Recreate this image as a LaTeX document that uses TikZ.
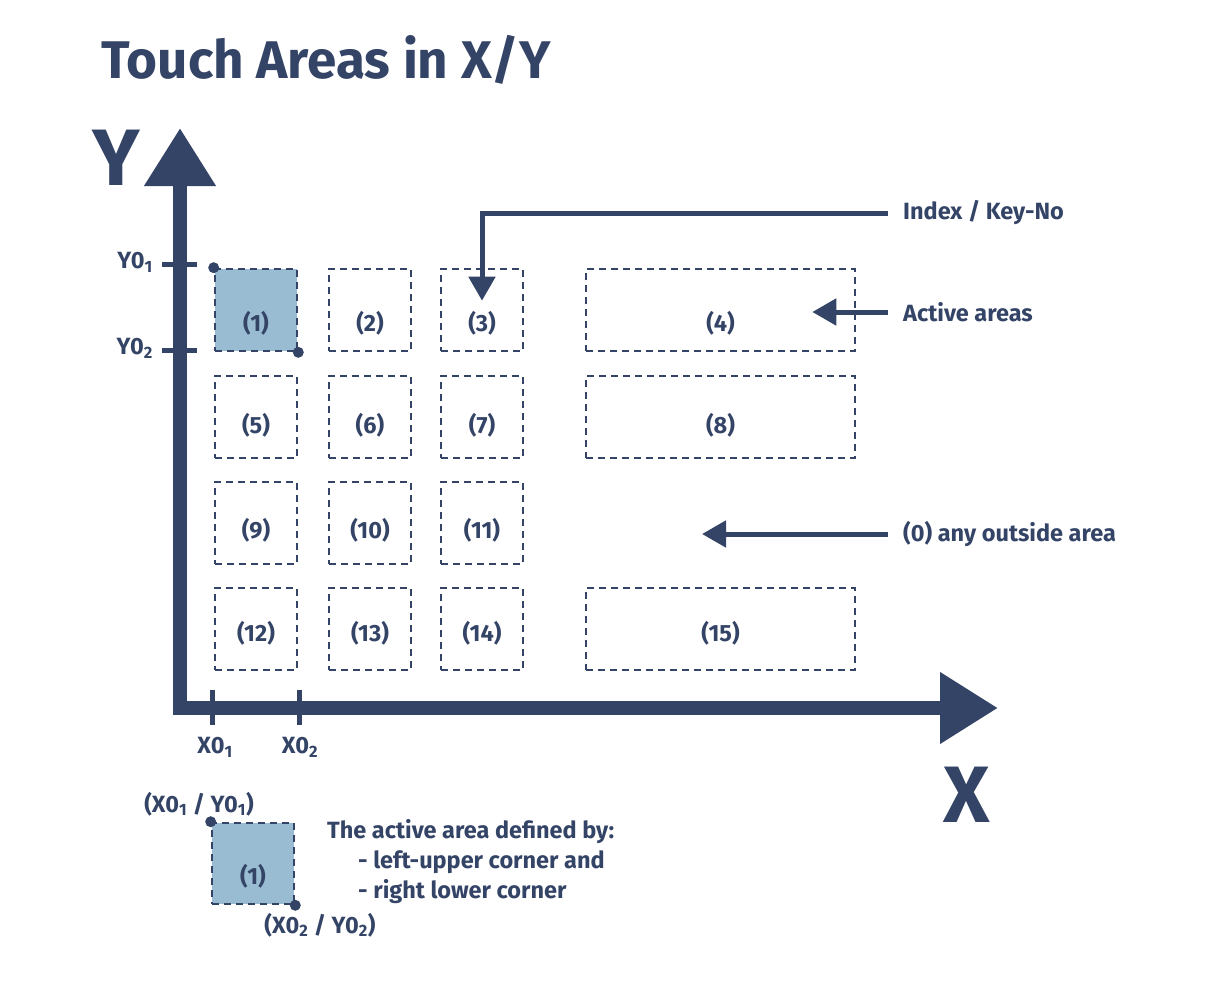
\documentclass[tikz,border=0pt]{standalone}
\usepackage{fontspec}
\setmainfont{Fira Sans}
\usetikzlibrary{arrows.meta, positioning}
\definecolor{navy}{RGB}{52,68,102}
\definecolor{areablue}{RGB}{153,188,211}
\tikzset{
    area/.style={rectangle, draw=navy, line width=2.6pt, dash pattern=on 7pt off 5pt, minimum width=82pt, minimum height=82pt, inner sep=0pt, text height=42pt, text depth=0pt, text=navy, font=\fontsize{23.5}{28}\selectfont\bfseries},
    widearea/.style={area, minimum width=269pt},
    activearea/.style={area, fill=areablue},
    rowb/.style={text height=33pt},
    rowc/.style={text height=30pt},
    rowd/.style={text height=24pt},
    axis/.style={navy, line width=14pt, line join=miter, {Triangle[length=58pt, width=68pt]}-{Triangle[length=58pt, width=68pt]}},
    tickmark/.style={navy, line width=5pt},
    ticklabel/.style={inner sep=0pt, text=navy, font=\fontsize{23.5}{28}\selectfont\bfseries},
    note/.style={anchor=west, inner xsep=15pt, inner ysep=0pt, text=navy, font=\fontsize{23.5}{28}\selectfont\bfseries},
    pointer/.style={navy, line width=5pt, -{Triangle[length=24pt, width=26pt]}},
    corner/.style={circle, fill=navy, inner sep=0pt, minimum size=11pt}
}

\begin{document}
\begin{tikzpicture}[x=1pt, y=-1pt]
    \useasboundingbox (0,0) rectangle (1208,988);

    \node (title) [anchor=base west, inner sep=0pt, text=navy, font=\fontsize{53}{60}\selectfont\bfseries] at (101,78) {Touch Areas in X/Y};

    % axes
    \coordinate (origin) at (180,708);
    \coordinate (ytop) at (180,128);
    \coordinate (xend) at (998,708);
    \draw [axis] (ytop) -- (origin) -- (xend);
    \node (ylab) [inner sep=0pt, text=navy, font=\fontsize{80}{80}\selectfont\bfseries] at (116,158) {Y};
    \node (xlab) [inner sep=0pt, text=navy, font=\fontsize{80}{80}\selectfont\bfseries] at (967,795) {X};

    % ticks
    \coordinate (y1) at (180,264);
    \coordinate (y2) at (180,350);
    \coordinate (x1) at (212,708);
    \coordinate (x2) at (299,708);
    \draw [tickmark] ([xshift=-18pt]y1) -- ([xshift=17pt]y1);
    \draw [tickmark] ([xshift=-18pt]y2) -- ([xshift=17pt]y2);
    \draw [tickmark] ([yshift=18pt]x1) -- ([yshift=-17pt]x1);
    \draw [tickmark] ([yshift=18pt]x2) -- ([yshift=-17pt]x2);
    \node (ly1) [ticklabel, anchor=east] at (153,262) {Y0\textsubscript{1}};
    \node (ly2) [ticklabel, anchor=east] at (153,348) {Y0\textsubscript{2}};
    \node (lx1) [ticklabel] at (215,747) {X0\textsubscript{1}};
    \node (lx2) [ticklabel] at (300,747) {X0\textsubscript{2}};

    % touch areas
    \node (b1) [activearea] at (256,310) {(1)};
    \node (b2) [area] at (370,310) {(2)};
    \node (b3) [area] at (482,310) {(3)};
    \node (b4) [widearea] at (720.5,310) {(4)};
    \node (b5) [area, rowb] at (256,417) {(5)};
    \node (b6) [area, rowb] at (370,417) {(6)};
    \node (b7) [area, rowb] at (482,417) {(7)};
    \node (b8) [widearea, rowb] at (720.5,417) {(8)};
    \node (b9) [area, rowc] at (256,523) {(9)};
    \node (b10) [area, rowc] at (370,523) {(10)};
    \node (b11) [area, rowc] at (482,523) {(11)};
    \node (b12) [area, rowd] at (256,629) {(12)};
    \node (b13) [area, rowd] at (370,629) {(13)};
    \node (b14) [area, rowd] at (482,629) {(14)};
    \node (b15) [widearea, rowd] at (720.5,629) {(15)};
    \node (c1) [corner] at (b1.north west) {};
    \node (c2) [corner] at (b1.south east) {};

    % notes
    \node (idx) [note] at (888,213) {Index / Key-No};
    \node (act) [note] at (888,312) {Active areas};
    \node (out) [note] at (888,534) {(0) any outside area};
    \coordinate (outtip) at (702,534);
    \draw [pointer] (idx.west) -| ([yshift=-33pt]b3.north);
    \draw [pointer] (act.west) -- ([xshift=-44pt]b4.east |- act.west);
    \draw [pointer] (out.west) -- (outtip);

    % legend
    \node (lb) [activearea, minimum height=81pt] at (253,863.5) {(1)};
    \node (lc1) [corner] at (lb.north west) {};
    \node (lc2) [corner] at (lb.south east) {};
    \node (lt1) [ticklabel] at (199,804) {(X0\textsubscript{1} / Y0\textsubscript{1})};
    \node (lt2) [ticklabel] at (320,925) {(X0\textsubscript{2} / Y0\textsubscript{2})};
    \node (def) [anchor=north west, inner sep=0pt, align=left, text=navy, font=\fontsize{23.5}{30}\selectfont\bfseries] at (327,819) {The active area defined by:\\\hspace*{31pt}- left-upper corner and\\\hspace*{31pt}- right lower corner};
\end{tikzpicture}
\end{document}
